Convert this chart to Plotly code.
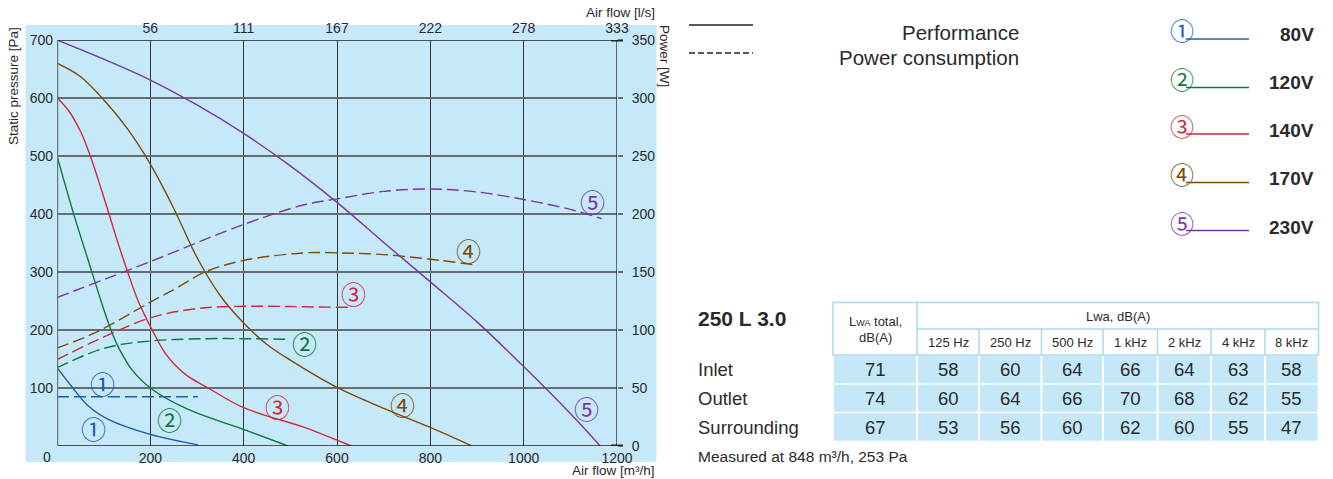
import plotly.graph_objects as go

# ---------------- data ----------------
# Performance curves: air flow [m3/h] vs static pressure [Pa]
perf_flow_1 = [0, 31, 67, 110, 200, 302]
perf_pres_1 = [135, 103, 69, 46, 20, 2]
perf_flow_2 = [0, 35, 74, 100, 118, 135, 160, 200, 281, 388, 495]
perf_pres_2 = [500, 402, 302, 236, 195, 165, 132, 100, 63, 32, 0]
perf_flow_3 = [0, 25, 50, 71, 90, 110, 130, 151, 174, 204, 231, 255, 281, 324, 400, 530, 600, 631]
perf_pres_3 = [601, 578, 543, 501, 455, 404, 352, 301, 250, 200, 161, 138, 120, 100, 66, 32, 10, 0]
perf_flow_4 = [0, 50, 100, 150, 200, 250, 300, 350, 400, 450, 500, 600, 700, 800, 889]
perf_pres_4 = [660, 637, 597, 548, 486, 410, 325, 259, 212, 175, 148, 101, 65, 32, 0]
perf_flow_5 = [0, 100, 200, 300, 400, 500, 600, 700, 800, 900, 1000, 1100, 1164]
perf_pres_5 = [700, 667, 631, 588, 539, 483, 420, 351, 283, 214, 137, 56, 0]

# Power consumption curves: air flow [m3/h] vs power [W]
pow_flow_1 = [0, 302]
pow_watt_1 = [42.5, 42.5]
pow_flow_2 = [0, 103, 200, 317, 400, 500]
pow_watt_2 = [67.5, 84.5, 90.5, 92.5, 92.5, 92]
pow_flow_3 = [0, 103, 200, 281, 352, 450, 530, 634]
pow_watt_3 = [74.5, 94.5, 110.5, 117.5, 120, 120.5, 120, 119.5]
pow_flow_4 = [0, 81, 200, 260, 317, 400, 530, 600, 700, 800, 898]
pow_watt_4 = [84.5, 97.5, 124, 137, 150, 160, 166.5, 166.5, 165, 161, 156]
pow_flow_5 = [0, 200, 400, 530, 600, 700, 800, 900, 1000, 1100, 1167]
pow_watt_5 = [128, 159, 191, 208, 213, 219.5, 221.5, 219, 212.5, 204, 196]

curve_marks = ["①", "②", "③", "④", "⑤"]
voltages = ["80V", "120V", "140V", "170V", "230V"]
# label anchor points (flow, pressure) for the circled numbers
perf_label_flow = [79, 242, 473, 741, 1134]
perf_label_pres = [31, 46, 69, 73, 65]
pow_label_flow = [98, 531, 636, 882, 1148]
pow_label_pres = [109, 177, 263, 338, 423]

x_ticks = [200, 400, 600, 800, 1000, 1200]
x_top_ticktext = ["56", "111", "167", "222", "278", "333"]
y_ticks = [100, 200, 300, 400, 500, 600, 700]
y2_ticks = [0, 50, 100, 150, 200, 250, 300, 350]

table_title = "250 L 3.0"
row_labels = ["Inlet", "Outlet", "Surrounding"]
freq_labels = ["125 Hz", "250 Hz", "500 Hz", "1 kHz", "2 kHz", "4 kHz", "8 kHz"]
lwa_total = [71, 74, 67]
lwa_bands = [
    [58, 60, 64, 66, 64, 63, 58],
    [60, 64, 66, 70, 68, 62, 55],
    [53, 56, 60, 62, 60, 55, 47],
]
measured_note = "Measured at 848 m³/h, 253 Pa"

# ---------------- styling ----------------
COLORS = ["#1c5bb5", "#0a7a3a", "#d0293a", "#7b4b0b", "#7b36a6"]
FONT = "Liberation Sans, Arial, sans-serif"
CJK = "Noto Sans CJK JP"
TXT = "#2a2a2a"
BG = "#c6e9f9"
W, H = 1333, 479
ML, MR, MT, MB = 57, 716, 40, 33
PW, PH = W - ML - MR, H - MT - MB


def fx(px):
    return (px - ML) / PW


def fy(py):
    return (H - MB - py) / PH


fig = go.Figure()

perf = [(perf_flow_1, perf_pres_1), (perf_flow_2, perf_pres_2), (perf_flow_3, perf_pres_3),
        (perf_flow_4, perf_pres_4), (perf_flow_5, perf_pres_5)]
powc = [(pow_flow_1, pow_watt_1), (pow_flow_2, pow_watt_2), (pow_flow_3, pow_watt_3),
        (pow_flow_4, pow_watt_4), (pow_flow_5, pow_watt_5)]

for i, (xs, ys) in enumerate(powc):
    fig.add_trace(go.Scatter(x=xs, y=ys, xaxis="x", yaxis="y2", mode="lines",
                             line=dict(color=COLORS[i], width=1.4, dash="12px,5px", shape="spline", smoothing=1.0),
                             showlegend=False, hoverinfo="skip"))
for i, (xs, ys) in enumerate(perf):
    fig.add_trace(go.Scatter(x=xs, y=ys, xaxis="x", yaxis="y", mode="lines",
                             line=dict(color=COLORS[i], width=1.4, shape="spline", smoothing=1.0),
                             showlegend=False, hoverinfo="skip"))
# helper trace so the top axis is drawn
fig.add_trace(go.Scatter(x=[0], y=[0], xaxis="x2", yaxis="y", mode="markers",
                         marker=dict(opacity=0), showlegend=False, hoverinfo="skip"))

shapes = []
annotations = []

# blue background
shapes.append(dict(type="rect", xref="paper", yref="paper", x0=fx(25.5), x1=fx(656.5), y0=fy(462), y1=fy(25),
                   fillcolor=BG, line=dict(width=0), layer="below"))
# frame lines
shapes.append(dict(type="line", xref="x", yref="y", x0=0, x1=1200, y0=700, y1=700, line=dict(color="#222", width=1.3)))
shapes.append(dict(type="line", xref="x", yref="y", x0=0, x1=1200, y0=0, y1=0, line=dict(color="#222", width=1.5)))
shapes.append(dict(type="line", xref="x", yref="y", x0=0, x1=0, y0=0, y1=700, line=dict(color="#6d7780", width=2.5)))
shapes.append(dict(type="line", xref="x", yref="y", x0=1200, x1=1200, y0=0, y1=700, line=dict(color="#222", width=1.3)))
# thick marks on the power axis ends
for yy in (0, 700):
    shapes.append(dict(type="line", xref="paper", yref="y", x0=fx(611), x1=fx(623), y0=yy, y1=yy,
                       line=dict(color="#222", width=3)))


def ann(text, px, py, size, color=TXT, xanchor="center", yanchor="middle", family=FONT, angle=0, xref="paper", yref="paper"):
    annotations.append(dict(text=text, x=fx(px) if xref == "paper" else px, y=fy(py) if yref == "paper" else py,
                            xref=xref, yref=yref, xanchor=xanchor, yanchor=yanchor, showarrow=False,
                            textangle=angle, font=dict(size=size, color=color, family=family)))


# circled numbers on curves
for i in range(5):
    ann(curve_marks[i], perf_label_flow[i], perf_label_pres[i], 25, COLORS[i], family=CJK, xref="x", yref="y")
    ann(curve_marks[i], pow_label_flow[i], pow_label_pres[i] / 2, 25, COLORS[i], family=CJK, xref="x", yref="y2")

# axis titles / extra labels
ann("Static pressure [Pa]", 13, 25, 13.5, angle=-90, yanchor="top")
ann("Power [W]", 665, 23, 13.5, angle=90, yanchor="top")
ann("Air flow [l/s]", 657, 13, 13.5, xanchor="right")
ann("Air flow [m³/h]", 657, 470.5, 13.5, xanchor="right")
ann("0", 47, 457, 14)

# legend: line styles
shapes.append(dict(type="line", xref="paper", yref="paper", x0=fx(689), x1=fx(753), y0=fy(25), y1=fy(25),
                   line=dict(color="#222", width=1.3)))
shapes.append(dict(type="line", xref="paper", yref="paper", x0=fx(689), x1=fx(753), y0=fy(53), y1=fy(53),
                   line=dict(color="#222", width=1.3, dash="6px,3px")))
ann("Performance", 1021, 32, 20.5, xanchor="right")
ann("Power consumption", 1021, 58, 20.5, xanchor="right")

# legend: voltages
circ_y = [30, 78, 125, 173, 223]
line_y = [39, 87.5, 134, 182.5, 230.5]
volt_y = [35, 82, 130, 178, 227]
for i in range(5):
    ann(curve_marks[i], 1182, circ_y[i], 24, COLORS[i], family=CJK)
    shapes.append(dict(type="line", xref="paper", yref="paper", x0=fx(1186), x1=fx(1249), y0=fy(line_y[i]), y1=fy(line_y[i]),
                       line=dict(color=COLORS[i], width=1.4)))
    ann("<b>" + voltages[i] + "</b>", 1316, volt_y[i], 19, xanchor="right")

# ---------------- table ----------------
col_edges = [833, 917, 979, 1041.5, 1103, 1157.5, 1211, 1265, 1318.5]
hdr_top, hdr_mid, hdr_bot = 302.5, 329, 355
row_edges = [355, 384, 412.5, 441.5]
TB = "#a9d7f0"
CELL = "#c4e8f8"

shapes.append(dict(type="rect", xref="paper", yref="paper", x0=fx(col_edges[0]), x1=fx(col_edges[-1]),
                   y0=fy(hdr_bot), y1=fy(hdr_top), fillcolor="white", line=dict(color=TB, width=1.5)))
shapes.append(dict(type="line", xref="paper", yref="paper", x0=fx(col_edges[1]), x1=fx(col_edges[1]),
                   y0=fy(hdr_bot), y1=fy(hdr_top), line=dict(color=TB, width=1.5)))
shapes.append(dict(type="line", xref="paper", yref="paper", x0=fx(col_edges[1]), x1=fx(col_edges[-1]),
                   y0=fy(hdr_mid), y1=fy(hdr_mid), line=dict(color=TB, width=1.5)))
for c in col_edges[2:-1]:
    shapes.append(dict(type="line", xref="paper", yref="paper", x0=fx(c), x1=fx(c),
                       y0=fy(hdr_bot), y1=fy(hdr_mid), line=dict(color=TB, width=1.5)))
# data cells
for r in range(3):
    for c in range(8):
        shapes.append(dict(type="rect", xref="paper", yref="paper",
                           x0=fx(col_edges[c] + 1), x1=fx(col_edges[c + 1] - 1),
                           y0=fy(row_edges[r + 1] - 0.8), y1=fy(row_edges[r] + 0.8),
                           fillcolor=CELL, line=dict(width=0)))

ann("L<span style='font-size:9px'>WA</span> total,", 875, 322, 13)
ann("dB(A)", 875, 337.5, 13)
ann("Lwa, dB(A)", 1118, 316, 13)
for c in range(7):
    ann(freq_labels[c], (col_edges[c + 1] + col_edges[c + 2]) / 2, 342.5, 13)
for r in range(3):
    cy = (row_edges[r] + row_edges[r + 1]) / 2
    ann(str(lwa_total[r]), (col_edges[0] + col_edges[1]) / 2, cy, 18.5)
    for c in range(7):
        ann(str(lwa_bands[r][c]), (col_edges[c + 1] + col_edges[c + 2]) / 2, cy, 18.5)
    ann(row_labels[r], 695.5, cy, 18.5, xanchor="left")
ann("<b>" + table_title + "</b>", 695.5, 318, 21, xanchor="left")
ann(measured_note, 695.5, 456, 15.5, xanchor="left")

fig.update_layout(
    width=W, height=H,
    margin=dict(l=ML, r=MR, t=MT, b=MB, pad=0),
    paper_bgcolor="white", plot_bgcolor="rgba(0,0,0,0)",
    font=dict(family=FONT, size=14, color=TXT),
    showlegend=False,
    shapes=shapes, annotations=annotations,
    xaxis=dict(range=[0, 1200], tickvals=x_ticks, ticks="", showgrid=True, gridcolor="#333", gridwidth=1.3,
               zeroline=False, showline=False, tickfont=dict(size=14, color=TXT), ticklabelstandoff=2),
    xaxis2=dict(range=[0, 1200], overlaying="x", side="top", tickvals=x_ticks, ticktext=x_top_ticktext,
                ticks="", showgrid=False, zeroline=False, showline=False, tickfont=dict(size=14, color=TXT),
                ticklabelstandoff=3),
    yaxis=dict(range=[0, 700], tickvals=y_ticks, ticks="", showgrid=True, gridcolor="#666c70", gridwidth=1.5,
               zeroline=False, showline=False, tickfont=dict(size=14, color=TXT), ticklabelstandoff=3),
    yaxis2=dict(range=[0, 350], overlaying="y", side="right", tickvals=y2_ticks, ticks="outside", ticklen=5,
                tickcolor="#666c70", tickwidth=1.5, showgrid=False, zeroline=False, showline=False,
                tickfont=dict(size=14, color=TXT), ticklabelstandoff=6),
)

fig.write_html("out.html", config={"displayModeBar": False},
               post_script="document.body.style.margin='0px';")
